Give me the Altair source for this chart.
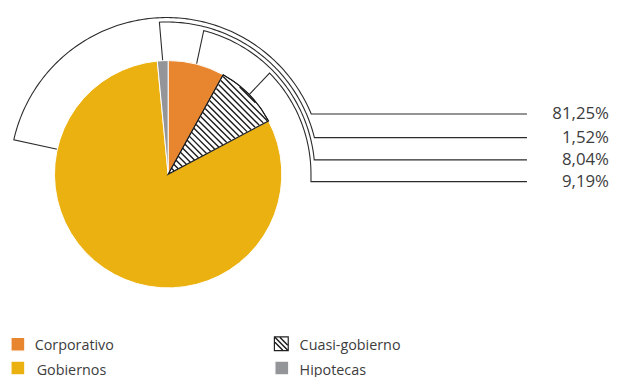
import math
import numpy as np
import pandas as pd
import altair as alt

# ---------------- data ----------------
categories = ["Corporativo", "Cuasi-gobierno", "Gobiernos", "Hipotecas"]
shares = [8.04, 9.19, 81.25, 1.52]
share_labels = ["8,04%", "9,19%", "81,25%", "1,52%"]

# ---------------- style / layout ----------------
fill_colors = ["#E8852F", "#FFFFFF", "#EBB111", "#939598"]
edge_colors = ["#FFFFFF", "#222222", "#FFFFFF", "#FFFFFF"]
TEXT_COLOR = "#3d3d3d"
LINE_COLOR = "#2b2b2b"
FONT = "Open Sans"

W, H = 602, 361
CX, CY, R = 169.0, 174.0, 115.0      # pie centre / radius (page px)
CCX = 167.5                           # callout arcs centre x
callout_r = {"Gobiernos": 158.5, "Hipotecas": 154.0, "Corporativo": 150.0, "Cuasi-gobierno": 146.0}
label_y = {"Gobiernos": 113.0, "Hipotecas": 137.0, "Corporativo": 159.5, "Cuasi-gobierno": 181.5}
GOB_ANCHOR = -77.3
LINE_END = 532
LABEL_X = 615
HATCH_STEP = 6.3

legend_pos = {  # square centre x, y ; text x, baseline y
    "Corporativo": (17, 346, 34, 352),
    "Cuasi-gobierno": (283.5, 345.5, 302, 352),
    "Gobiernos": (17, 370, 36, 377),
    "Hipotecas": (284, 370, 302, 377),
}

xs = alt.Scale(domain=[8, 8 + W], nice=False, zero=False)
ys = alt.Scale(domain=[8, 8 + H], reverse=True, nice=False, zero=False)
fill_scale = alt.Scale(domain=categories, range=fill_colors)
edge_scale = alt.Scale(domain=categories, range=edge_colors)

shares_arr = np.array(shares)
start_deg = (np.cumsum(shares_arr) - shares_arr) * 3.6
end_deg = np.cumsum(shares_arr) * 3.6
mid_deg = (start_deg + end_deg) / 2


def pt(ang, r, cx=CX):
    a = math.radians(ang)
    return cx + r * math.sin(a), CY - r * math.cos(a)


# ---------------- pie ----------------
pie_df = pd.DataFrame({"cat": categories, "value": shares, "idx": range(len(categories))})
pie = (
    alt.Chart(pie_df)
    .transform_window(end="sum(value)", sort=[alt.SortField("idx")], frame=[None, 0])
    .transform_calculate(start="datum.end - datum.value")
    .mark_arc(radius=R, strokeWidth=1)
    .encode(
        x=alt.XDatum(CX, type="quantitative", scale=xs, axis=None),
        y=alt.YDatum(CY, type="quantitative", scale=ys, axis=None),
        theta=alt.Theta("start:Q", scale=alt.Scale(domain=[0, 100], range=[0, 2 * math.pi])),
        theta2="end:Q",
        fill=alt.Fill("cat:N", scale=fill_scale, legend=None),
        stroke=alt.Stroke("cat:N", scale=edge_scale, legend=None),
    )
)

# ---------------- hatch for Cuasi-gobierno ----------------
ci = categories.index("Cuasi-gobierno")
a1, a2 = start_deg[ci], end_deg[ci]
hrows = []
ts = np.arange(CX - R, CX + R, 0.05)
for c in np.arange(CY - CX - 2 * R, CY - CX + 2 * R, HATCH_STEP):
    xx = ts
    yy = ts + c
    dx, dy = xx - CX, yy - CY
    rr = np.hypot(dx, dy)
    ang = np.degrees(np.arctan2(dx, -dy)) % 360
    ok = (rr <= R - 0.8) & (ang >= a1 + 0.4) & (ang <= a2 - 0.4)
    if ok.sum() > 3:
        sel = xx[ok]
        x0, x1 = sel.min(), sel.max()
        hrows.append(dict(x=x0, y=x0 + c, x2=x1, y2=x1 + c))
hatch_df = pd.DataFrame(hrows)
hatch = alt.Chart(hatch_df).mark_rule(color="#1a1a1a", strokeWidth=1.4).encode(
    x=alt.X("x:Q", scale=xs, axis=None), y=alt.Y("y:Q", scale=ys, axis=None), x2="x2:Q", y2="y2:Q"
)

cuasi_outline = (
    alt.Chart(pie_df)
    .transform_window(end="sum(value)", sort=[alt.SortField("idx")], frame=[None, 0])
    .transform_calculate(start="datum.end - datum.value")
    .transform_filter(alt.datum.cat == "Cuasi-gobierno")
    .mark_arc(radius=R, filled=False, stroke="#1a1a1a", strokeWidth=1.2)
    .encode(
        x=alt.XDatum(CX, type="quantitative", scale=xs, axis=None),
        y=alt.YDatum(CY, type="quantitative", scale=ys, axis=None),
        theta=alt.Theta("start:Q", scale=alt.Scale(domain=[0, 100], range=[0, 2 * math.pi])),
        theta2="end:Q",
    )
)

# ---------------- callouts ----------------
crow = []
for i, cat in enumerate(categories):
    anchor = GOB_ANCHOR if cat == "Gobiernos" else mid_deg[i]
    if anchor > 180:
        anchor -= 360
    r = callout_r[cat]
    yl = label_y[cat]
    pts = [pt(anchor, R)]
    ratio = (CY - yl) / r
    end = min(math.degrees(math.acos(max(-1.0, min(1.0, ratio)))), 90.0)
    for a in np.linspace(anchor, end, int(abs(end - anchor)) + 2):
        pts.append(pt(a, r, CCX))
    if yl > CY:
        pts.append((CCX + r, yl))
    pts.append((LINE_END, yl))
    for j, (x, y) in enumerate(pts):
        crow.append(dict(cat=cat, o=j, x=x, y=y))
call_df = pd.DataFrame(crow)
callouts = alt.Chart(call_df).mark_line(color=LINE_COLOR, strokeWidth=1.1).encode(
    x=alt.X("x:Q", scale=xs, axis=None),
    y=alt.Y("y:Q", scale=ys, axis=None),
    detail="cat:N",
    order="o:Q",
)

lab_df = pd.DataFrame({
    "cat": categories,
    "label": share_labels,
    "x": [LABEL_X] * len(categories),
    "y": [label_y[c] for c in categories],
})
labels = alt.Chart(lab_df).mark_text(
    align="right", baseline="middle", font=FONT, fontSize=17, color=TEXT_COLOR
).encode(x=alt.X("x:Q", scale=xs, axis=None), y=alt.Y("y:Q", scale=ys, axis=None), text="label:N")

# ---------------- legend ----------------
leg_df = pd.DataFrame({
    "cat": categories,
    "sx": [legend_pos[c][0] for c in categories],
    "sy": [legend_pos[c][1] for c in categories],
    "tx": [legend_pos[c][2] for c in categories],
    "ty": [legend_pos[c][3] for c in categories],
})
leg_sq = alt.Chart(leg_df).mark_square(size=196, opacity=1, strokeWidth=1.2).encode(
    x=alt.X("sx:Q", scale=xs, axis=None),
    y=alt.Y("sy:Q", scale=ys, axis=None),
    fill=alt.Fill("cat:N", scale=fill_scale, legend=None),
    stroke=alt.Stroke("cat:N", scale=alt.Scale(domain=categories, range=["#E8852F", "#1a1a1a", "#EBB111", "#939598"]), legend=None),
)
qx, qy, _, _ = legend_pos["Cuasi-gobierno"]
lh_rows = [
    dict(x=qx - 6.5, y=qy - 6.5, x2=qx + 6.5, y2=qy + 6.5),
    dict(x=qx - 1.5, y=qy - 6.5, x2=qx + 6.5, y2=qy + 1.5),
    dict(x=qx - 6.5, y=qy - 1.5, x2=qx + 1.5, y2=qy + 6.5),
]
leg_hatch = alt.Chart(pd.DataFrame(lh_rows)).mark_rule(color="#1a1a1a", strokeWidth=1.5).encode(
    x=alt.X("x:Q", scale=xs, axis=None), y=alt.Y("y:Q", scale=ys, axis=None), x2="x2:Q", y2="y2:Q"
)
leg_txt = alt.Chart(leg_df).mark_text(
    align="left", baseline="alphabetic", font=FONT, fontSize=14.5, color=TEXT_COLOR
).encode(x=alt.X("tx:Q", scale=xs, axis=None), y=alt.Y("ty:Q", scale=ys, axis=None), text="cat:N")

chart = (
    alt.layer(callouts, pie, hatch, cuasi_outline, labels, leg_sq, leg_hatch, leg_txt)
    .properties(width=W, height=H, padding=0, background="white")
    .configure_view(stroke=None)
)
chart.save("out.html", embed_options={"renderer": "svg", "actions": False})
